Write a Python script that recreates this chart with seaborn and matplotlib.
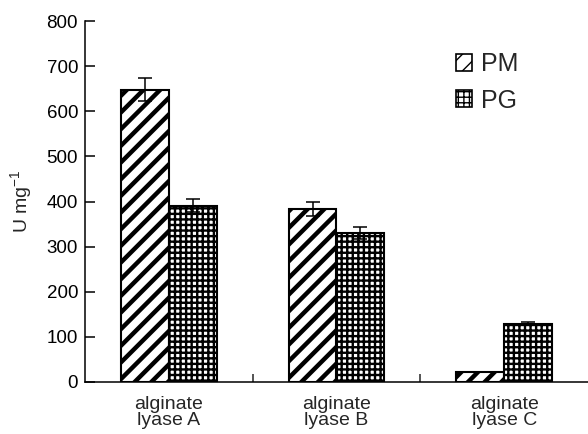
import matplotlib
matplotlib.use("Agg")
import matplotlib.pyplot as plt
import seaborn as sns
import pandas as pd
from matplotlib.patches import Patch

# ---- data ----
enzymes = ["alginate\nlyase A", "alginate\nlyase B", "alginate\nlyase C"]
substrates = ["PM", "PG"]
pm_values = [648, 383, 23]
pg_values = [391, 330, 129]
pm_errors = [25, 15, 0]
pg_errors = [15, 14, 3]
y_ticks = [0, 100, 200, 300, 400, 500, 600, 700, 800]

sns.set_style("ticks")
plt.rcParams["font.family"] = ["Liberation Sans", "DejaVu Sans"]
plt.rcParams["mathtext.default"] = "regular"

fig = plt.figure(figsize=(5.88, 4.34), dpi=100)
ax = fig.add_axes([85 / 588, 1 - 382 / 434, 503 / 588, 361 / 434])

df = pd.DataFrame({
    "enzyme": enzymes * 2,
    "substrate": ["PM"] * 3 + ["PG"] * 3,
    "value": pm_values + pg_values,
})

sns.barplot(data=df, x="enzyme", y="value", hue="substrate",
            order=enzymes, hue_order=substrates,
            palette={"PM": "white", "PG": "white"},
            edgecolor="black", linewidth=1.5, width=0.57,
            errorbar=None, legend=False, ax=ax, saturation=1)

styles = {"PM": ("//", 3.2), "PG": ("+++", 1.7)}
errs = {"PM": pm_errors, "PG": pg_errors}

xs, ys, es = [], [], []
for bar in ax.patches:
    cx = bar.get_x() + bar.get_width() / 2
    idx = int(round(cx))
    level = "PM" if cx < idx else "PG"
    h, lw = styles[level]
    bar.set_hatch(h)
    if hasattr(bar, "set_hatch_linewidth"):
        bar.set_hatch_linewidth(lw)
    if 0 <= idx < 3 and errs[level][idx] > 0:
        xs.append(cx)
        ys.append(bar.get_height())
        es.append(errs[level][idx])

ax.errorbar(xs, ys, yerr=es, fmt="none", ecolor="black",
            elinewidth=1.1, capsize=4.8, capthick=1.1, zorder=5)

ax.set_xlim(-0.5, 2.5)
ax.set_ylim(0, 800)
ax.set_yticks(y_ticks)
ax.set_xlabel("")
ax.set_ylabel("U mg$^{-1}$", fontsize=14)
ax.yaxis.set_label_coords(-0.102, 0.5)

ax.tick_params(axis="y", direction="in", length=7, width=1.1,
               labelsize=13.5, pad=5, colors="black")
ax.tick_params(axis="x", which="major", length=0, pad=10, labelsize=14)
ax.set_xticks([0.5, 1.5], minor=True)
ax.tick_params(axis="x", which="minor", direction="in", length=6, width=1.1)
for lbl in ax.get_xticklabels():
    lbl.set_linespacing(0.95)

sns.despine(ax=ax, top=True, right=True)
for s in ("left", "bottom"):
    ax.spines[s].set_linewidth(1.1)
    ax.spines[s].set_color("black")

handles = []
for level in substrates:
    p = Patch(facecolor="white", edgecolor="black", linewidth=1.2,
              hatch=styles[level][0], label=level)
    if hasattr(p, "set_hatch_linewidth"):
        p.set_hatch_linewidth(styles[level][1])
    handles.append(p)

fig.legend(handles=handles, loc="upper left",
           bbox_to_anchor=(456 / 588, 1 - 52 / 434), frameon=False,
           fontsize=18, handlelength=0.65, handleheight=0.65,
           handletextpad=0.35, labelspacing=0.5, borderpad=0,
           borderaxespad=0)

fig.savefig("out.png", dpi=100)
